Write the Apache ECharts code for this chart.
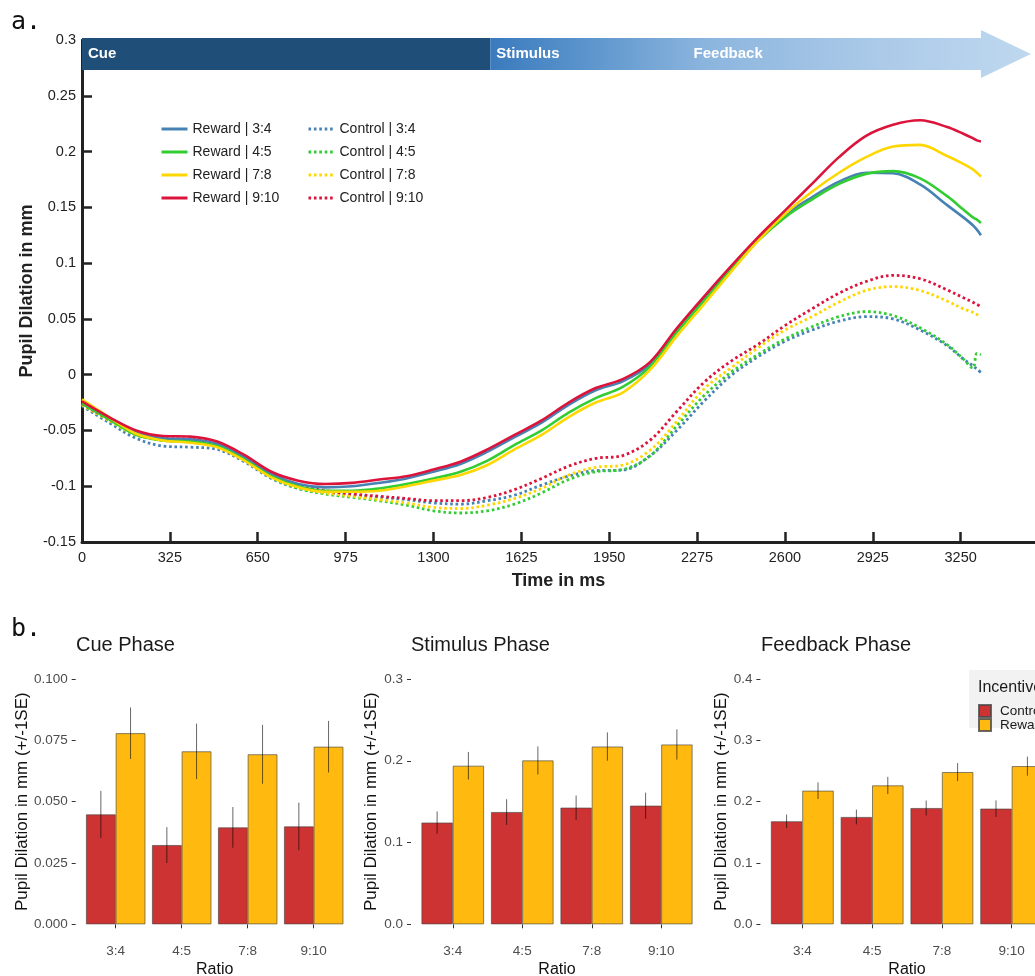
<!DOCTYPE html>
<html>
<head>
<meta charset="utf-8">
<script src="https://cdn.jsdelivr.net/npm/echarts@6/dist/echarts.min.js"></script>
<style>
  html, body { margin: 0; padding: 0; background: #fff; }
  #chart { width: 1035px; height: 976px; }
</style>
</head>
<body>
<div id="chart"></div>
<script>
// ---- Panel a: pupil dilation time course (mm) ----
const timeMs = [0, 100, 200, 300, 400, 500, 600, 700, 800, 900, 1000, 1100, 1200, 1300, 1400, 1500,
  1600, 1700, 1800, 1900, 2000, 2100, 2200, 2300, 2400, 2500, 2600, 2700, 2800, 2900, 3000, 3100,
  3200, 3260, 3295, 3310, 3325];
const timeTicks = [0, 325, 650, 975, 1300, 1625, 1950, 2275, 2600, 2925, 3250];

const rewardRatio34 = [-0.025, -0.039, -0.052, -0.057, -0.058, -0.062, -0.074, -0.089, -0.098, -0.101, -0.100,
  -0.097, -0.093, -0.087, -0.080, -0.069, -0.056, -0.043, -0.027, -0.014, -0.006, 0.009, 0.039, 0.068, 0.096,
  0.121, 0.143, 0.159, 0.173, 0.181, 0.1805, 0.1705, 0.152, 0.141, 0.134, 0.130, 0.125];
const rewardRatio45 = [-0.026, -0.040, -0.054, -0.059, -0.060, -0.064, -0.076, -0.091, -0.100, -0.104, -0.104,
  -0.102, -0.098, -0.093, -0.087, -0.077, -0.063, -0.050, -0.034, -0.021, -0.011, 0.007, 0.038, 0.066, 0.094,
  0.120, 0.141, 0.157, 0.171, 0.180, 0.1825, 0.176, 0.160, 0.148, 0.141, 0.139, 0.136];
const rewardRatio78 = [-0.022, -0.038, -0.053, -0.059, -0.061, -0.065, -0.077, -0.092, -0.101, -0.105, -0.105,
  -0.104, -0.100, -0.095, -0.090, -0.081, -0.067, -0.054, -0.038, -0.025, -0.016, 0.004, 0.0345, 0.063, 0.092,
  0.120, 0.144, 0.164, 0.181, 0.195, 0.2045, 0.206, 0.196, 0.189, 0.184, 0.181, 0.1775];
const rewardRatio910 = [-0.024, -0.038, -0.050, -0.055, -0.0555, -0.060, -0.072, -0.087, -0.095, -0.098, -0.097,
  -0.094, -0.091, -0.085, -0.078, -0.067, -0.054, -0.041, -0.025, -0.012, -0.004, 0.011, 0.0415, 0.0698, 0.097,
  0.123, 0.147, 0.171, 0.195, 0.214, 0.224, 0.228, 0.222, 0.216, 0.212, 0.210, 0.209];

const controlRatio34 = [-0.028, -0.043, -0.057, -0.064, -0.065, -0.067, -0.078, -0.093, -0.102, -0.106, -0.108,
  -0.110, -0.112, -0.115, -0.116, -0.113, -0.108, -0.099, -0.091, -0.086, -0.0855, -0.073, -0.050, -0.024, -0.001,
  0.016, 0.030, 0.040, 0.048, 0.052, 0.050, 0.040, 0.026, 0.014, 0.008, 0.005, 0.002];
const controlRatio45 = [-0.027, -0.041, -0.054, -0.059, -0.060, -0.063, -0.076, -0.092, -0.102, -0.107, -0.110,
  -0.113, -0.117, -0.122, -0.124, -0.122, -0.116, -0.106, -0.094, -0.087, -0.085, -0.073, -0.046, -0.019, 0.002,
  0.018, 0.032, 0.043, 0.052, 0.0565, 0.053, 0.042, 0.027, 0.014, 0.006, 0.019, 0.018];
const controlRatio78 = [-0.027, -0.041, -0.054, -0.059, -0.060, -0.063, -0.075, -0.091, -0.101, -0.106, -0.109,
  -0.112, -0.115, -0.119, -0.120, -0.117, -0.111, -0.102, -0.090, -0.083, -0.081, -0.068, -0.042, -0.013, 0.006,
  0.024, 0.040, 0.052, 0.065, 0.0755, 0.079, 0.0755, 0.066, 0.059, 0.056, 0.054, 0.052];
const controlRatio910 = [-0.026, -0.040, -0.052, -0.057, -0.058, -0.062, -0.074, -0.090, -0.099, -0.104, -0.107,
  -0.109, -0.111, -0.113, -0.113, -0.110, -0.103, -0.093, -0.082, -0.075, -0.0725, -0.059, -0.033, -0.007, 0.012,
  0.027, 0.044, 0.059, 0.073, 0.0835, 0.089, 0.086, 0.076, 0.069, 0.065, 0.063, 0.061];

// Task phases shown on the banner (start time in ms)
const phaseNames = ['Cue', 'Stimulus', 'Feedback'];
const phaseStarts = [0, 1510, 2240];

// ---- Panel b: mean dilation per phase (mm, +/- 1 SE) ----
const ratioLabels = ['3:4', '4:5', '7:8', '9:10'];
const cueControl = [0.0448, 0.0323, 0.0395, 0.0399];
const cueControlSE = [0.0096, 0.0073, 0.0083, 0.0097];
const cueReward = [0.0779, 0.0705, 0.0693, 0.0724];
const cueRewardSE = [0.0105, 0.0113, 0.0120, 0.0105];
const stimulusControl = [0.1244, 0.1373, 0.1427, 0.1451];
const stimulusControlSE = [0.0136, 0.0157, 0.0148, 0.0160];
const stimulusReward = [0.1939, 0.2004, 0.2174, 0.2199];
const stimulusRewardSE = [0.0169, 0.0172, 0.0173, 0.0185];
const feedbackControl = [0.1680, 0.1750, 0.1896, 0.1886];
const feedbackControlSE = [0.0110, 0.0120, 0.0122, 0.0135];
const feedbackReward = [0.2179, 0.2265, 0.2482, 0.2579];
const feedbackRewardSE = [0.0136, 0.0140, 0.0147, 0.0155];

const FONT = '"Liberation Sans", Arial, sans-serif';
const lineColors = ['#4682b4', '#32cd32', '#ffd700', '#dc143c'];
const ratioKeys = ['3:4', '4:5', '7:8', '9:10'];
const rewardLines = [rewardRatio34, rewardRatio45, rewardRatio78, rewardRatio910];
const controlLines = [controlRatio34, controlRatio45, controlRatio78, controlRatio910];
const CONTROL_COLOR = '#cd3333';
const REWARD_COLOR = '#ffb90f';

const chart = echarts.init(document.getElementById('chart'), null, { renderer: 'canvas' });

function lineSeries(name, values, color, dotted) {
  return {
    name, type: 'line', xAxisIndex: 0, yAxisIndex: 0,
    data: timeMs.map((t, i) => [t, values[i]]),
    smooth: 0.35, symbol: 'none', showSymbol: false,
    lineStyle: dotted
      ? { color, width: 2.8, type: [2.6, 2.8], cap: 'butt' }
      : { color, width: 2.6 },
    itemStyle: { color },
    z: dotted ? 2 : 3
  };
}

const series = [];
controlLines.forEach((v, i) => series.push(lineSeries('Control | ' + ratioKeys[i], v, lineColors[i], true)));
rewardLines.forEach((v, i) => series.push(lineSeries('Reward | ' + ratioKeys[i], v, lineColors[i], false)));

// grouped bar panels
const panels = [
  { title: 'Cue Phase', control: cueControl, controlSE: cueControlSE, reward: cueReward, rewardSE: cueRewardSE,
    max: 0.1, interval: 0.025, digits: 3, left: 82.7, width: 264, titleLeft: 76, nameGap: 45 },
  { title: 'Stimulus Phase', control: stimulusControl, controlSE: stimulusControlSE, reward: stimulusReward,
    rewardSE: stimulusRewardSE, max: 0.3, interval: 0.1, digits: 1, left: 418, width: 278, titleLeft: 411, nameGap: 31 },
  { title: 'Feedback Phase', control: feedbackControl, controlSE: feedbackControlSE, reward: feedbackReward,
    rewardSE: feedbackRewardSE, max: 0.4, interval: 0.1, digits: 1, left: 767.4, width: 279.2, titleLeft: 761, nameGap: 31 }
];

const grids = [{ left: 82, top: 40, width: 953, height: 502, outerBoundsMode: 'none' }];
const xAxes = [{
  type: 'value', gridIndex: 0, min: 0, max: 3525,
  axisLine: { show: true, onZero: false, lineStyle: { color: '#222', width: 3 } },
  axisTick: { show: true, inside: true, length: 10, customValues: timeTicks, lineStyle: { color: '#222', width: 2.5 } },
  axisLabel: { customValues: timeTicks, color: '#222', fontSize: 14.5, fontFamily: FONT, margin: 8,
    formatter: v => String(v) },
  splitLine: { show: false },
  name: 'Time in ms', nameLocation: 'middle', nameGap: 30, nameMoveOverlap: false,
  nameTextStyle: { fontSize: 18, fontWeight: 'bold', color: '#222', fontFamily: FONT }
}];
const yAxes = [{
  type: 'value', gridIndex: 0, min: -0.15, max: 0.3, interval: 0.05,
  axisLine: { show: true, onZero: false, lineStyle: { color: '#222', width: 3 } },
  axisTick: { show: true, inside: true, length: 10, lineStyle: { color: '#222', width: 2.5 } },
  axisLabel: { color: '#222', fontSize: 14.5, fontFamily: FONT, margin: 6,
    formatter: v => String(+v.toFixed(2)) },
  splitLine: { show: false },
  name: 'Pupil Dilation in mm', nameLocation: 'middle', nameGap: 46, nameMoveOverlap: false,
  nameTextStyle: { fontSize: 18, fontWeight: 'bold', color: '#222', fontFamily: FONT }
}];
const titles = [];

function errorBarSeries(name, gi, values, se, side) {
  return {
    name, type: 'custom', xAxisIndex: gi, yAxisIndex: gi, z: 4,
    data: values.map((v, i) => [i, v - se[i], v + se[i]]),
    renderItem(params, api) {
      const band = api.size([1, 0])[0];
      const lo = api.coord([api.value(0), api.value(1)]);
      const hi = api.coord([api.value(0), api.value(2)]);
      const x = lo[0] + side * band * 0.225;
      return { type: 'line', shape: { x1: x, y1: lo[1], x2: x, y2: hi[1] },
        style: { stroke: 'rgba(0,0,0,0.6)', lineWidth: 1 } };
    },
    tooltip: { show: false }
  };
}

panels.forEach((p, k) => {
  const gi = k + 1;
  grids.push({ left: p.left, top: 679, width: p.width, height: 245.3, outerBoundsMode: 'none' });
  xAxes.push({
    type: 'category', gridIndex: gi, data: ratioLabels, offset: 9,
    axisLine: { show: false },
    axisTick: { show: true, alignWithLabel: true, length: 4, lineStyle: { color: '#333', width: 1 } },
    axisLabel: { color: '#4d4d4d', fontSize: 13.5, fontFamily: FONT, margin: 11 },
    name: 'Ratio', nameLocation: 'middle', nameGap: 28, nameMoveOverlap: false,
    nameTextStyle: { fontSize: 16, color: '#111', fontFamily: FONT }
  });
  yAxes.push({
    type: 'value', gridIndex: gi, min: 0, max: p.max, interval: p.interval, offset: 7,
    axisLine: { show: false },
    axisTick: { show: true, length: 4, lineStyle: { color: '#333', width: 1 } },
    axisLabel: { color: '#4d4d4d', fontSize: 13.5, fontFamily: FONT, margin: 8,
      formatter: v => v.toFixed(p.digits) },
    splitLine: { show: false },
    name: 'Pupil Dilation in mm (+/-1SE)', nameLocation: 'middle', nameGap: p.nameGap, nameMoveOverlap: false,
    nameTextStyle: { fontSize: 17, color: '#111', fontFamily: FONT }
  });
  titles.push({ text: p.title, left: p.titleLeft, top: 635, padding: 0,
    textStyle: { fontSize: 20, fontWeight: 'normal', color: '#1a1a1a', fontFamily: FONT } });
  const barCommon = { type: 'bar', xAxisIndex: gi, yAxisIndex: gi, barGap: 0, barCategoryGap: '10%', z: 2 };
  series.push(Object.assign({ name: 'Control', data: p.control,
    itemStyle: { color: CONTROL_COLOR, borderColor: 'rgba(70,70,70,0.8)', borderWidth: 0.8 } }, barCommon));
  series.push(Object.assign({ name: 'Reward', data: p.reward,
    itemStyle: { color: REWARD_COLOR, borderColor: 'rgba(70,70,70,0.8)', borderWidth: 0.8 } }, barCommon));
  series.push(errorBarSeries('Control SE', gi, p.control, p.controlSE, -1));
  series.push(errorBarSeries('Reward SE', gi, p.reward, p.rewardSE, 1));
});

const lineLegendCommon = {
  orient: 'vertical', top: 122, padding: 0, itemWidth: 26, itemHeight: 14, itemGap: 9,
  itemStyle: { opacity: 0 },
  lineStyle: { width: 3 },
  textStyle: { fontSize: 14, color: '#222', fontFamily: FONT, lineHeight: 14 }
};

const option = {
  animation: false,
  backgroundColor: '#ffffff',
  textStyle: { fontFamily: FONT },
  title: titles,
  legend: [
    Object.assign({ left: 160, data: ratioKeys.map(r => 'Reward | ' + r) }, lineLegendCommon),
    Object.assign({ left: 307, data: ratioKeys.map(r => 'Control | ' + r) }, lineLegendCommon),
    { orient: 'vertical', left: 978, top: 704, padding: 0, itemWidth: 12, itemHeight: 12, itemGap: 0,
      icon: 'rect', data: ['Control', 'Reward'],
      textStyle: { fontSize: 13.5, color: '#1a1a1a', fontFamily: FONT, lineHeight: 12, padding: [0, 0, 0, 4] } }
  ],
  grid: grids,
  xAxis: xAxes,
  yAxis: yAxes,
  series
};

chart.setOption(option);

// Phase banner drawn over the top of panel a, positioned in data coordinates
const px = t => chart.convertToPixel({ xAxisIndex: 0 }, t);
const py = v => chart.convertToPixel({ yAxisIndex: 0 }, v);
const bannerTop = py(0.3) - 2;
const bannerH = 32;
const bannerMid = bannerTop + bannerH / 2;
const xCueEnd = px(phaseStarts[1]);
const xHead = px(timeMs[timeMs.length - 1]);
const xTip = px(3510);

const graphics = [
  { type: 'rect', z: 100, shape: { x: px(phaseStarts[0]), y: bannerTop, width: xCueEnd - px(phaseStarts[0]), height: bannerH },
    style: { fill: '#1f4e79' } },
  { type: 'polygon', z: 100,
    shape: { points: [[xCueEnd, bannerTop], [xHead, bannerTop], [xHead, bannerTop - 8], [xTip, bannerMid],
      [xHead, bannerTop + bannerH + 8], [xHead, bannerTop + bannerH], [xCueEnd, bannerTop + bannerH]] },
    style: { fill: { type: 'linear', x: 0, y: 0, x2: 1, y2: 0, colorStops: [
      { offset: 0, color: '#3a7abd' }, { offset: 0.2, color: '#6098ce' }, { offset: 0.4, color: '#8cb5de' },
      { offset: 0.7, color: '#aac9e8' }, { offset: 1, color: '#bfd8ef' }] } } }
];
phaseNames.forEach((name, i) => {
  graphics.push({ type: 'text', z: 101, x: px(phaseStarts[i]) + 6, y: bannerMid,
    style: { text: name, fill: '#ffffff', font: 'bold 15px ' + FONT, verticalAlign: 'middle', align: 'left' } });
});
// panel letters
graphics.push({ type: 'text', z: 101, x: 11, y: 22,
  style: { text: 'a.', fill: '#111', font: '25px "DejaVu Sans Mono", monospace', verticalAlign: 'middle' } });
graphics.push({ type: 'text', z: 101, x: 11, y: 629,
  style: { text: 'b.', fill: '#111', font: '25px "DejaVu Sans Mono", monospace', verticalAlign: 'middle' } });
// legend box for the incentive groups
graphics.push({ type: 'rect', z: 0, shape: { x: 969, y: 670, width: 80, height: 58 }, style: { fill: '#f2f2f2' } });
graphics.push({ type: 'text', z: 1, x: 978, y: 688,
  style: { text: 'Incentive', fill: '#1a1a1a', font: '16px ' + FONT, verticalAlign: 'middle' } });

chart.setOption({ graphic: graphics });
</script>
</body>
</html>
